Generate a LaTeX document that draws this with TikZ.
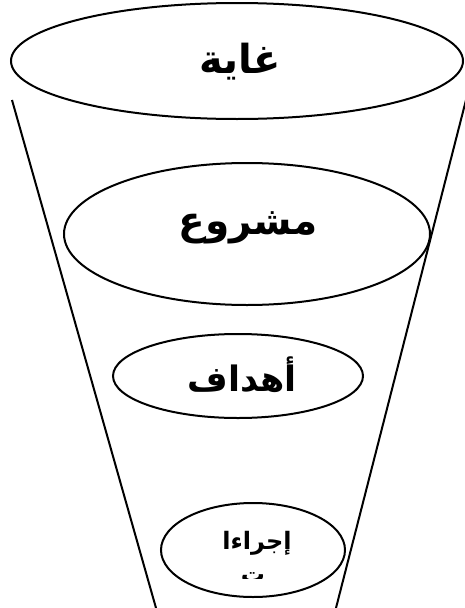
\documentclass[tikz,border=0pt]{standalone}
\usepackage{fontspec}
\TeXXeTstate=1
\newfontfamily\arabicfont[Script=Arabic]{DejaVu Sans Bold}
\usetikzlibrary{shapes.geometric}
\tikzset{
  level/.style={draw=black, line width=2pt, fill=white},
  funnel/.style={draw=black, line width=2pt},
  word/.style={inner sep=0pt}
}
\begin{document}
\begin{tikzpicture}[x=1pt,y=-1pt]
\useasboundingbox (0,0) rectangle (465,608);
% funnel sides
\coordinate (lt) at (12,100);
\coordinate (lb) at (156,608);
\coordinate (rt) at (466,100);
\coordinate (rb) at (336,608);
\draw[funnel] (lt) -- (lb);
\draw[funnel] (rt) -- (rb);
% ellipses
\draw[level] (237,61) ellipse [x radius=226, y radius=58];
\draw[level] (247,234) ellipse [x radius=183, y radius=71];
\draw[level] (238,376) ellipse [x radius=125, y radius=42];
\draw[level] (253,550) ellipse [x radius=92, y radius=47];
% labels
\node[word, font=\arabicfont\fontsize{40}{46}\selectfont] (goal) at (240,62) {\beginR غاية\endR};
\node[word, font=\arabicfont\fontsize{39}{46}\selectfont] (proj) at (248,228) {\beginR مشروع\endR};
\node[word, font=\arabicfont\fontsize{35}{40}\selectfont] (obj) at (242,375) {\beginR أهداف\endR};
\node[word, font=\arabicfont\fontsize{24}{28}\selectfont] (act) at (257,543) {\beginR إجراءا\endR};
\begin{scope}
\clip (230,569) rectangle (280,578);
\node[word, font=\arabicfont\fontsize{24}{28}\selectfont, anchor=north] (act2) at (253,572) {\beginR ت\endR};
\end{scope}
\end{tikzpicture}
\end{document}
